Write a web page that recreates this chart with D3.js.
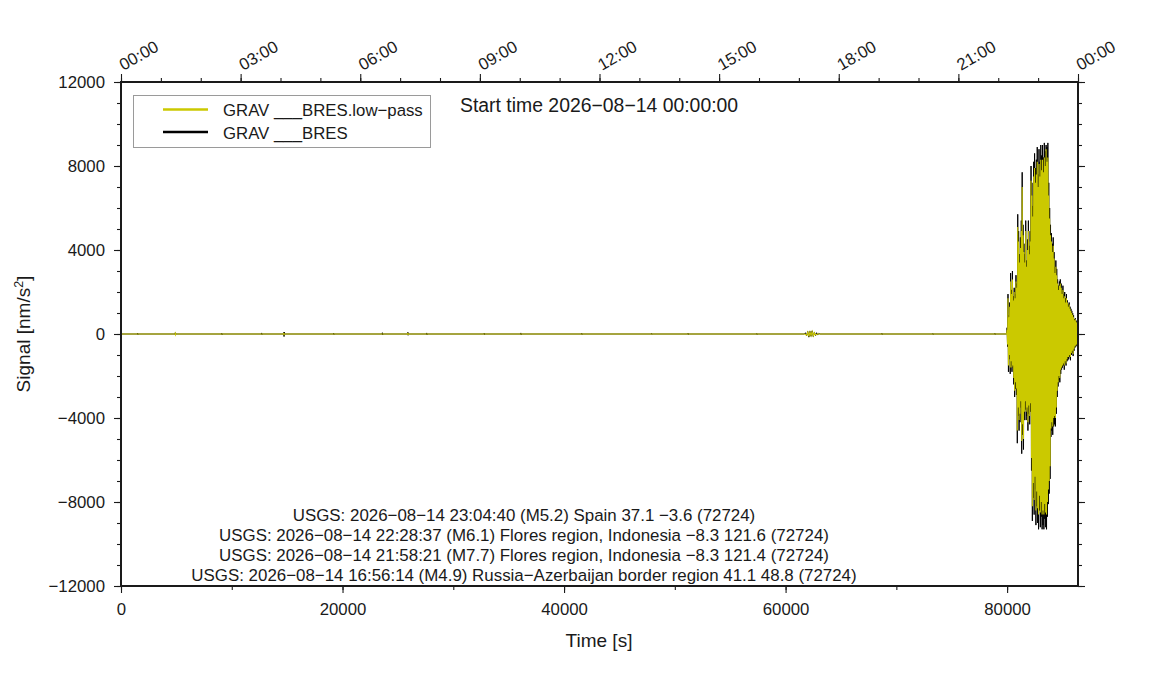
<!DOCTYPE html>
<html>
<head>
<meta charset="utf-8">
<script src="https://cdn.jsdelivr.net/npm/d3@7"></script>
<style>
  body { margin: 0; background: #fff; }
  svg { display: block; font-family: "Liberation Sans", Arial, Helvetica, sans-serif; }
</style>
</head>
<body>
<svg id="chart" width="1151" height="700"></svg>
<script>
// quiet part of the day: [time s, value nm/s^2], flat with small blips
const quietRaw = [
  [0, 0], [1480, 0], [1500, 40], [1520, -30], [1540, 0],
  [4880, 0], [4900, 60], [4920, -50], [4940, 20], [4960, 0],
  [9080, 0], [9100, 40], [9120, -40], [9140, 0],
  [12680, 0], [12700, 50], [12720, -30], [12740, 0],
  [14680, 0], [14700, 70], [14720, -120], [14740, 90], [14760, -40], [14780, 0],
  [19180, 0], [19200, 40], [19220, -30], [19240, 0],
  [23580, 0], [23600, 60], [23620, -40], [23640, 0],
  [25880, 0], [25900, 80], [25920, -60], [25940, 30], [25960, 0],
  [27580, 0], [27600, 50], [27620, -40], [27640, 0],
  [32780, 0], [32800, 40], [32820, -30], [32840, 0],
  [36080, 0], [36100, 50], [36120, -40], [36140, 0],
  [41580, 0], [41600, 40], [41620, -30], [41640, 0],
  [47880, 0], [47900, 30], [47920, -20], [47940, 0],
  [51180, 0], [51200, 40], [51220, -30], [51240, 0],
  [57380, 0], [57400, 30], [57420, -30], [57440, 0],
  [61700, 0], [61800, 60], [61900, -90], [62000, 120], [62100, -150], [62200, 130],
  [62300, -110], [62400, 150], [62500, -120], [62600, 90], [62700, -80], [62800, 60],
  [62900, -50], [63000, 30], [63100, 0],
  [68680, 0], [68700, 40], [68720, -30], [68740, 0],
  [73280, 0], [73300, 30], [73320, -30], [73340, 0],
  [78880, 0], [78900, 40], [78920, -30], [78940, 0], [79960, 0]
];
const quietLow = [
  [0, 0], [4880, 0], [4900, 30], [4920, -30], [4940, 0],
  [14680, 0], [14700, 50], [14720, -60], [14740, 0],
  [25880, 0], [25900, 50], [25920, -40], [25940, 0],
  [61700, 0], [61900, -60], [62000, 90], [62100, -110], [62200, 100], [62300, -80],
  [62400, 110], [62500, -90], [62600, 60], [62700, -50], [62900, 0], [79960, 0]
];

// the earthquake burst, one sample every burstStep seconds from burstStart
const burstStart = 80000;
const burstStep = 40;
const burstRaw = [
  300, -600, 1900, -1800, 900, -1200, 1500, -1900, 2900, -1500,
  2100, -1800, 3000, -1600, 1800, -2400, 2200, -3000, 1900, -2600,
  2800, -2900, 2400, -5200, 5700, -3900, 4900, -4600, 3800, -4200,
  4600, -3500, 5400, -5700, 7700, -4800, 5200, -5500, 4300, -4100,
  3800, -3600, 5400, -4100, 3500, -3900, 4500, -4600, 5400, -3800,
  4200, -4300, 4900, -3700, 8000, -6500, 7200, -8900, 6100, -7800,
  8200, -8600, 8600, -7400, 7900, -9100, 8300, -8200, 8900, -9000,
  7600, -9300, 8800, -8400, 8200, -9200, 9000, -8700, 8500, -9300,
  9000, -9100, 8400, -9300, 9100, -8800, 8700, -9200, 9000, -9300,
  8900, -8700, 9100, -8100, 7200, -7600, 6000, -6900, 5200, -4900,
  4800, -4600, 4300, -4800, 4600, -4400, 3900, -4300, 3200, -4400,
  3500, -3800, 3100, -3000, 2600, -2500, 2300, -2200, 2500, -2300,
  2600, -1900, 2400, -1700, 2100, -1600, 2300, -1500, 1900, -1700,
  2000, -1400, 1700, -1500, 1900, -1300, 1600, -1250, 1400, -1200,
  1500, -1100, 1300, -1250, 1200, -1000, 1100, -900, 1000, -1050,
  900, -800, 700, -650, 750, -600, 600, -550, 650, -500,
  400
];
const burstLow = [
  200, -500, 1700, -1500, 800, -1000, 1300, -1600, 2500, -1300,
  1900, -1600, 2600, -1500, 1600, -2100, 2000, -2700, 1700, -2300,
  2500, -2600, 2200, -4600, 5100, -3500, 4400, -4100, 3400, -3800,
  4100, -3200, 4900, -5100, 7000, -4300, 4700, -5000, 3900, -3700,
  3400, -3200, 4900, -3700, 3200, -3500, 4000, -4200, 4900, -3400,
  3800, -3900, 4400, -3300, 7300, -5900, 6600, -8200, 5600, -7100,
  7500, -7900, 7900, -6800, 7200, -8400, 7600, -7500, 8200, -8300,
  7000, -8600, 8100, -7700, 7500, -8500, 8300, -8000, 7800, -8600,
  8300, -8400, 7700, -8600, 8400, -8100, 8000, -8500, 8800, -8600,
  8200, -8000, 8400, -7400, 6600, -7000, 5500, -6300, 4700, -4500,
  4400, -4200, 3900, -4400, 4200, -4000, 3600, -3900, 2900, -4000,
  3200, -3500, 2800, -2700, 2400, -2300, 2100, -2000, 2300, -2100,
  2400, -1700, 2200, -1600, 1900, -1500, 2100, -1400, 1700, -1500,
  1800, -1300, 1500, -1400, 1700, -1200, 1500, -1100, 1300, -1100,
  1400, -1000, 1200, -1100, 1100, -900, 1000, -800, 900, -950,
  800, -700, 650, -600, 700, -550, 550, -500, 600, -450,
  350
];

const yTicks = [-12000, -8000, -4000, 0, 4000, 8000, 12000];
const yMinorStep = 1000;
const xTicks = [0, 20000, 40000, 60000, 80000];
const xMinorStep = 10000;
const hourTicks = [0, 10800, 21600, 32400, 43200, 54000, 64800, 75600, 86400];
const hourLabels = ["00:00", "03:00", "06:00", "09:00", "12:00", "15:00", "18:00", "21:00", "00:00"];
const hourMinorStep = 3600;

const legendLabels = ["GRAV ___BRES.low\u2212pass", "GRAV ___BRES"];
const startLabel = "Start time 2026\u221208\u221214 00:00:00";
const eventLines = [
  "USGS: 2026\u221208\u221214 23:04:40 (M5.2) Spain 37.1 \u22123.6 (72724)",
  "USGS: 2026\u221208\u221214 22:28:37 (M6.1) Flores region, Indonesia \u22128.3 121.6 (72724)",
  "USGS: 2026\u221208\u221214 21:58:21 (M7.7) Flores region, Indonesia \u22128.3 121.4 (72724)",
  "USGS: 2026\u221208\u221214 16:56:14 (M4.9) Russia\u2212Azerbaijan border region 41.1 48.8 (72724)"
];

const YELLOW = "#cbc900";
const INK = "#1a1a1a";

const svg = d3.select("#chart");
const margin = { top: 82, right: 73, bottom: 114, left: 121 };
const W = 1151, H = 700;
const x = d3.scaleLinear().domain([0, 86400]).range([margin.left, W - margin.right]);
const y = d3.scaleLinear().domain([-12000, 12000]).range([H - margin.bottom, margin.top]);

svg.append("rect").attr("width", W).attr("height", H).attr("fill", "#fff");

// full series: quiet part + burst samples
const toBurst = arr => arr.map((v, i) => [burstStart + i * burstStep, v]);
const rawSeries = quietRaw.concat(toBurst(burstRaw));
const lowSeries = quietLow.concat(toBurst(burstLow));

svg.append("clipPath").attr("id", "plot-clip")
  .append("rect")
  .attr("x", x(0)).attr("y", y(12000))
  .attr("width", x(86400) - x(0)).attr("height", y(-12000) - y(12000));

const line = d3.line().x(d => x(d[0])).y(d => y(d[1]));
const plot = svg.append("g").attr("clip-path", "url(#plot-clip)");
plot.append("path").datum(rawSeries)
  .attr("d", line).attr("fill", "none").attr("stroke", "#000").attr("stroke-width", 1);
plot.append("path").datum(lowSeries)
  .attr("d", line).attr("fill", "none").attr("stroke", YELLOW).attr("stroke-width", 1.1);

// axes
const fmtY = d => d < 0 ? "\u2212" + Math.abs(d) : String(d);
const minorVals = (lo, hi, step) => d3.range(lo, hi + 1, step);

function styleAxis(g) {
  g.select(".domain").remove();
  g.selectAll(".tick line").attr("stroke", INK).attr("stroke-width", 1.1);
  g.selectAll(".tick text").attr("fill", INK).style("font-size", "16.8px")
    .style("font-family", "\"Liberation Sans\", Arial, sans-serif");
}

// minor ticks (no labels)
svg.append("g").attr("transform", `translate(${x(0)},0)`)
  .call(d3.axisLeft(y).tickValues(minorVals(-12000, 12000, yMinorStep)).tickSize(4).tickFormat(""))
  .call(styleAxis);
svg.append("g").attr("transform", `translate(${x(86400)},0)`)
  .call(d3.axisRight(y).tickValues(minorVals(-12000, 12000, yMinorStep)).tickSize(4).tickFormat(""))
  .call(styleAxis);
svg.append("g").attr("transform", `translate(0,${y(-12000)})`)
  .call(d3.axisBottom(x).tickValues(minorVals(0, 86400, xMinorStep)).tickSize(4).tickFormat(""))
  .call(styleAxis);
svg.append("g").attr("transform", `translate(0,${y(12000)})`)
  .call(d3.axisTop(x).tickValues(minorVals(0, 86400, hourMinorStep)).tickSize(4).tickFormat(""))
  .call(styleAxis);

// major ticks
svg.append("g").attr("transform", `translate(${x(0)},0)`)
  .call(d3.axisLeft(y).tickValues(yTicks).tickSize(7).tickPadding(9).tickFormat(fmtY))
  .call(styleAxis);
svg.append("g").attr("transform", `translate(${x(86400)},0)`)
  .call(d3.axisRight(y).tickValues(yTicks).tickSize(7).tickFormat(""))
  .call(styleAxis);
svg.append("g").attr("transform", `translate(0,${y(-12000)})`)
  .call(d3.axisBottom(x).tickValues(xTicks).tickSize(7).tickPadding(10).tickFormat(d => String(d)))
  .call(styleAxis);
const topAxis = svg.append("g").attr("transform", `translate(0,${y(12000)})`)
  .call(d3.axisTop(x).tickValues(hourTicks).tickSize(8).tickFormat((d, i) => hourLabels[i]))
  .call(styleAxis);
topAxis.selectAll(".tick text")
  .attr("text-anchor", "start")
  .attr("x", null).attr("y", null).attr("dy", null)
  .attr("transform", "translate(2,-11) rotate(-30)");

// frame
svg.append("rect")
  .attr("x", x(0)).attr("y", y(12000))
  .attr("width", x(86400) - x(0)).attr("height", y(-12000) - y(12000))
  .attr("fill", "none").attr("stroke", INK).attr("stroke-width", 2);

// axis titles
svg.append("text")
  .attr("x", 599).attr("y", 647)
  .attr("text-anchor", "middle").attr("fill", INK)
  .style("font-size", "19px")
  .text("Time [s]");

const yTitle = svg.append("text")
  .attr("transform", "translate(30,334) rotate(-90)")
  .attr("text-anchor", "middle").attr("fill", INK)
  .style("font-size", "19px");
yTitle.append("tspan").text("Signal [nm/s");
yTitle.append("tspan").attr("dy", -7).style("font-size", "12.5px").text("2");
yTitle.append("tspan").attr("dy", 7).text("]");

// start time label
svg.append("text")
  .attr("x", 460).attr("y", 112)
  .attr("fill", INK).style("font-size", "19.4px")
  .text(startLabel);

// legend
const legend = svg.append("g");
legend.append("rect")
  .attr("x", 133.5).attr("y", 95.5).attr("width", 297).attr("height", 52)
  .attr("fill", "#fff").attr("stroke", "#9a9a9a").attr("stroke-width", 1);
const legendColors = [YELLOW, "#000"];
legendLabels.forEach((lbl, i) => {
  const ly = 109.5 + i * 22.5;
  legend.append("line")
    .attr("x1", 163).attr("x2", 208).attr("y1", ly).attr("y2", ly)
    .attr("stroke", legendColors[i]).attr("stroke-width", 2.6);
  legend.append("text")
    .attr("x", 223).attr("y", ly + 6.5)
    .attr("fill", INK).style("font-size", "16.8px")
    .text(lbl);
});

// event annotations
svg.append("g").selectAll("text")
  .data(eventLines)
  .join("text")
  .attr("x", 524)
  .attr("y", (d, i) => 520.5 + i * 20)
  .attr("text-anchor", "middle")
  .attr("fill", INK)
  .style("font-size", "16.9px")
  .text(d => d);
</script>
</body>
</html>
